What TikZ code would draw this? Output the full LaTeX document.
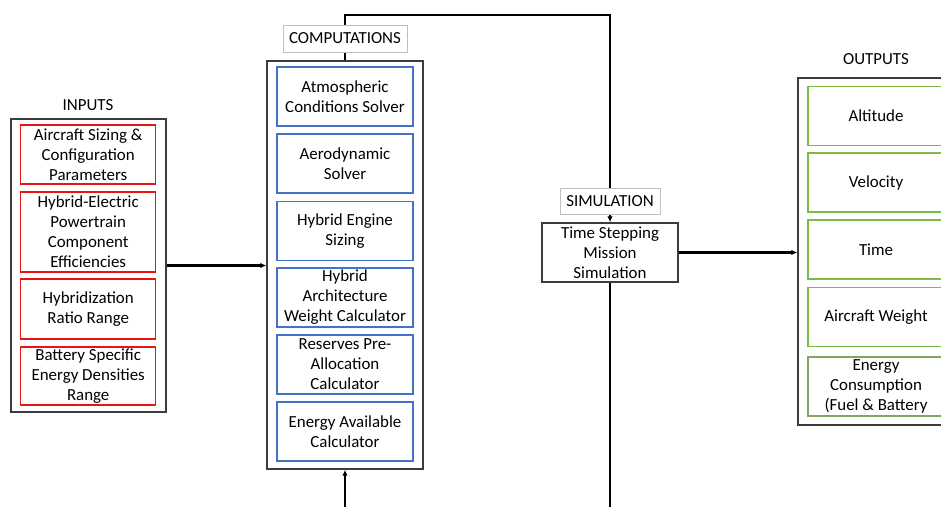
\documentclass[tikz,border=0pt]{standalone}
\usepackage{fontspec}
\setmainfont{Carlito}
\usetikzlibrary{arrows.meta}
\definecolor{inred}{RGB}{235,20,20}
\definecolor{compblue}{RGB}{68,114,196}
\definecolor{outgreen}{RGB}{120,190,70}
\definecolor{outgreenb}{RGB}{130,165,100}
\definecolor{lblgray}{RGB}{191,191,191}
\definecolor{outline}{RGB}{60,60,60}
\begin{document}
\begin{tikzpicture}[x=1pt,y=-1pt,
  txt/.style={font=\fontsize{16.9}{20}\selectfont, align=center, inner sep=0pt},
  outerbox/.style={draw=outline, line width=1.4pt, inner sep=0pt, minimum width=#1},
  inbox/.style={txt, draw=inred, line width=1.1pt, minimum width=135pt},
  cbox/.style={txt, draw=compblue, line width=1.1pt, minimum width=136pt, minimum height=59pt},
  obox/.style={txt, draw=outgreen, line width=1.1pt, minimum width=136pt, minimum height=59pt},
  lblbox/.style={txt, draw=lblgray, fill=white, line width=0.9pt},
  plainbox/.style={txt, draw=outline, line width=1.4pt},
  conn/.style={line width=2.2pt, black},
  arrow/.style={conn, -{Latex[length=6pt,width=5.5pt]}}
]
\useasboundingbox (0,0) rectangle (941,507);
\clip (0,0) rectangle (941,507);

% INPUTS
\node[txt] (inlbl) at (88,105) {INPUTS};
\node[outerbox=155pt, minimum height=293pt] (inouter) at (88.3,265.5) {};
\node[inbox, minimum height=59pt] (i1) at (88.2,154.5) {Aircraft Sizing \&\\Configuration\\Parameters};
\node[inbox, minimum height=80pt] (i2) at (88.2,232) {Hybrid-Electric\\Powertrain\\Component\\Efficiencies};
\node[inbox, minimum height=60pt] (i3) at (88.2,309) {Hybridization\\Ratio Range};
\node[inbox, minimum height=58pt] (i4) at (88.2,376) {Battery Specific\\Energy Densities\\Range};

% COMPUTATIONS
\node[outerbox=156pt, minimum height=408pt] (compouter) at (345,265) {};
\node[cbox] (c1) at (345,96.5) {Atmospheric\\Conditions Solver};
\node[cbox] (c2) at (345,163.5) {Aerodynamic\\Solver};
\node[cbox] (c3) at (345,231) {Hybrid Engine\\Sizing};
\node[cbox] (c4) at (345,297.5) {Hybrid\\Architecture\\Weight Calculator};
\node[cbox] (c5) at (345,364.5) {Reserves Pre-\\Allocation\\Calculator};
\node[cbox] (c6) at (345,431.5) {Energy Available\\Calculator};

% SIMULATION
\node[plainbox, minimum width=136pt, minimum height=59pt] (sim) at (610,252.5) {Time Stepping\\Mission\\Simulation};

% OUTPUTS
\node[txt] (outlbl) at (876,59) {OUTPUTS};
\node[outerbox=155pt, minimum height=347pt] (outouter) at (875.5,251.5) {};
\node[obox] (o1) at (876,116) {Altitude};
\node[obox] (o2) at (876,182.5) {Velocity};
\node[obox] (o3) at (876,249.5) {Time};
\node[obox] (o4) at (876,317) {Aircraft Weight};
\node[obox, draw=outgreenb] (o5) at (876,386.5) {Energy\\Consumption\\(Fuel \& Battery};

% connectors
\coordinate (tl) at (345,15);
\coordinate (tr) at (610,15);
\coordinate (bl) at (345,507);
\coordinate (br) at (610,507);
\draw[arrow] (inouter.east) -- (inouter.east -| compouter.west);
\draw[arrow] (bl) -- (compouter.south);
\draw[arrow] (compouter.north) -- (tl) -- (tr) -- (sim.north);
\draw[conn] (sim.south) -- (br);
\draw[arrow] (sim.east) -- (sim.east -| outouter.west);

% labels on top of lines
\node[lblbox, minimum width=124pt, minimum height=27pt] (complbl) at (345,38.5) {COMPUTATIONS};
\node[lblbox, minimum width=100pt, minimum height=26pt] (simlbl) at (610,201) {SIMULATION};
\end{tikzpicture}
\end{document}
